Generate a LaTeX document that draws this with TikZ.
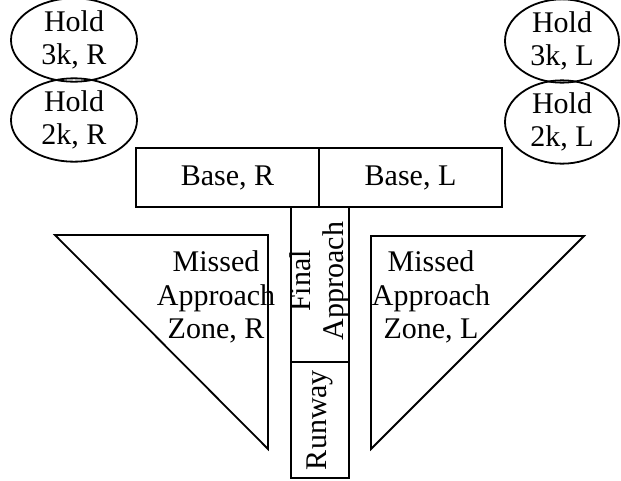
\documentclass[tikz,border=0pt]{standalone}
\usepackage{fontspec}
\setmainfont{Liberation Serif}
\usetikzlibrary{shapes.geometric}
\begin{document}
\begin{tikzpicture}[x=1pt,y=-1pt,
  every node/.style={font=\fontsize{30}{33.5}\selectfont, align=center, inner sep=0pt},
  holdbox/.style={draw, ellipse, line width=1.8pt, minimum width=126pt, minimum height=74pt},
  areabox/.style={draw, rectangle, line width=1.8pt},
  zone/.style={draw, line width=1.8pt, line join=miter}]
\useasboundingbox (0,0) rectangle (621,480);
% holding ellipses
\node[holdbox] (h3r) at (74,40) {Hold\\3k, R};
\node[holdbox] (h2r) at (74,120) {Hold\\2k, R};
\node[holdbox, minimum width=114pt] (h3l) at (562,41) {Hold\\3k, L};
\node[holdbox, minimum width=114pt] (h2l) at (562,122) {Hold\\2k, L};
% base boxes
\node[areabox, minimum width=183pt, minimum height=59pt] (br) at (227.5,177.5) {Base, R};
\node[areabox, minimum width=183pt, minimum height=59pt] (bl) at (410.5,177.5) {Base, L};
% final approach and runway
\node[areabox, minimum width=58pt, minimum height=155pt] (fa) at (320,284.5) {};
\node[rotate=90] (fat) at (320,281) {Final\\Approach};
\node[areabox, rotate=90, minimum width=116pt, minimum height=58pt] (rw) at (320,420) {Runway};
% missed approach zones
\coordinate (ra) at (55,235);
\coordinate (rb) at (268,235);
\coordinate (rc) at (268,449);
\draw[zone] (ra) -- (rb) -- (rc) -- cycle;
\coordinate (la) at (371,236);
\coordinate (lb) at (584,236);
\coordinate (lc) at (371,449);
\draw[zone] (la) -- (lb) -- (lc) -- cycle;
\node (mr) at (216,297) {Missed\\Approach\\Zone, R};
\node (ml) at (431,297) {Missed\\Approach\\Zone, L};
\end{tikzpicture}
\end{document}
